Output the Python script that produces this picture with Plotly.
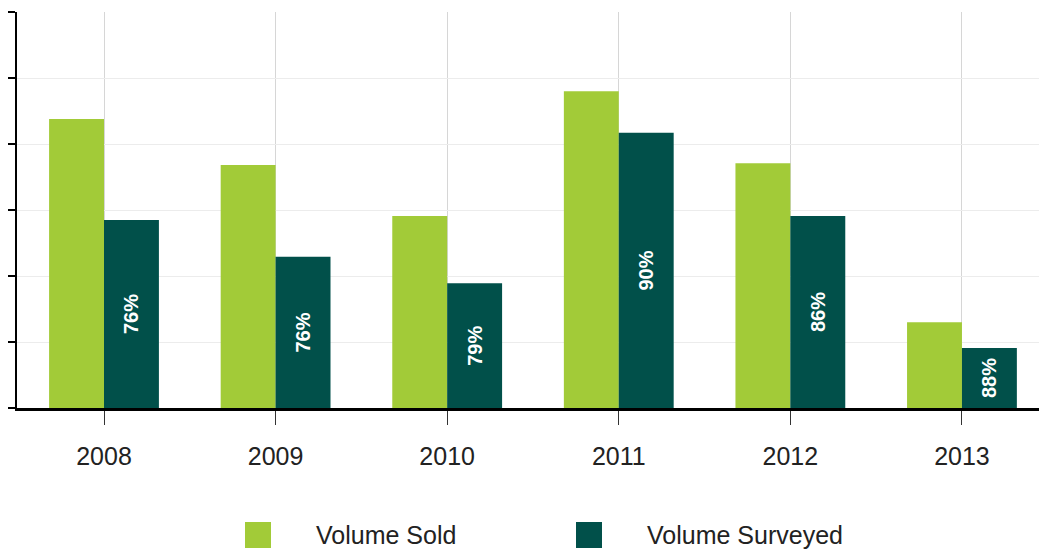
import plotly.graph_objects as go

years = ["2008", "2009", "2010", "2011", "2012", "2013"]
volume_sold = [4.38, 3.68, 2.91, 4.80, 3.71, 1.30]
volume_surveyed = [2.85, 2.29, 1.89, 4.17, 2.91, 0.91]
surveyed_pct = ["76%", "76%", "79%", "90%", "86%", "88%"]

LIGHT = "#A2CB38"
DARK = "#01504A"
FONT = "Liberation Sans, Arial, sans-serif"

W, H = 1039, 550
L, R, T, B = 17, 0, 12, 142
pw, ph = W - L - R, H - T - B

def px(x):
    return (x - L) / pw

def py(y):
    return (H - B - y) / ph

xpos = list(range(len(years)))

fig = go.Figure()
fig.add_trace(go.Bar(x=xpos, y=volume_sold, name="Volume Sold",
                     marker=dict(color=LIGHT, line=dict(width=0)),
                     showlegend=False))
fig.add_trace(go.Bar(x=xpos, y=volume_surveyed, name="Volume Surveyed",
                     marker=dict(color=DARK, line=dict(width=0)),
                     text=surveyed_pct, textposition="inside",
                     insidetextanchor="middle", textangle=-90,
                     textfont=dict(color="white", size=20, family=FONT, weight="bold"),
                     showlegend=False))

fig.update_layout(
    width=W, height=H,
    margin=dict(l=L, r=R, t=T, b=B, pad=0),
    paper_bgcolor="white", plot_bgcolor="white",
    barmode="group", bargap=0.36, bargroupgap=0,
    font=dict(family=FONT, color="#222222"),
)
fig.update_xaxes(
    type="linear", range=[-0.507, 5.449],
    tickmode="array", tickvals=xpos, ticktext=years,
    tickfont=dict(size=25, color="#222222", family=FONT),
    showgrid=True, gridcolor="#d6d6d6", gridwidth=1,
    ticks="outside", ticklen=14, tickcolor="#333333", tickwidth=1,
    ticklabelstandoff=10,
    showline=True, linecolor="black", linewidth=2.5,
    zeroline=False,
)
fig.update_yaxes(
    range=[0, 6], tickmode="array", tickvals=[0, 1, 2, 3, 4, 5, 6],
    showticklabels=False,
    showgrid=True, gridcolor="#ececec", gridwidth=1,
    ticks="outside", ticklen=7, tickcolor="black", tickwidth=1.5,
    showline=True, linecolor="black", linewidth=2,
    zeroline=False,
)

# legend drawn manually
for x0, col, label in [(245, LIGHT, "Volume Sold"), (576, DARK, "Volume Surveyed")]:
    fig.add_shape(type="rect", xref="paper", yref="paper",
                  x0=px(x0), x1=px(x0 + 26), y0=py(548), y1=py(522),
                  fillcolor=col, line=dict(width=0))
    fig.add_annotation(xref="paper", yref="paper", x=px(x0 + 69), y=py(535),
                       xanchor="left", yanchor="middle", text=label,
                       showarrow=False,
                       font=dict(size=25, color="#222222", family=FONT))

fig.write_html("out.html")
